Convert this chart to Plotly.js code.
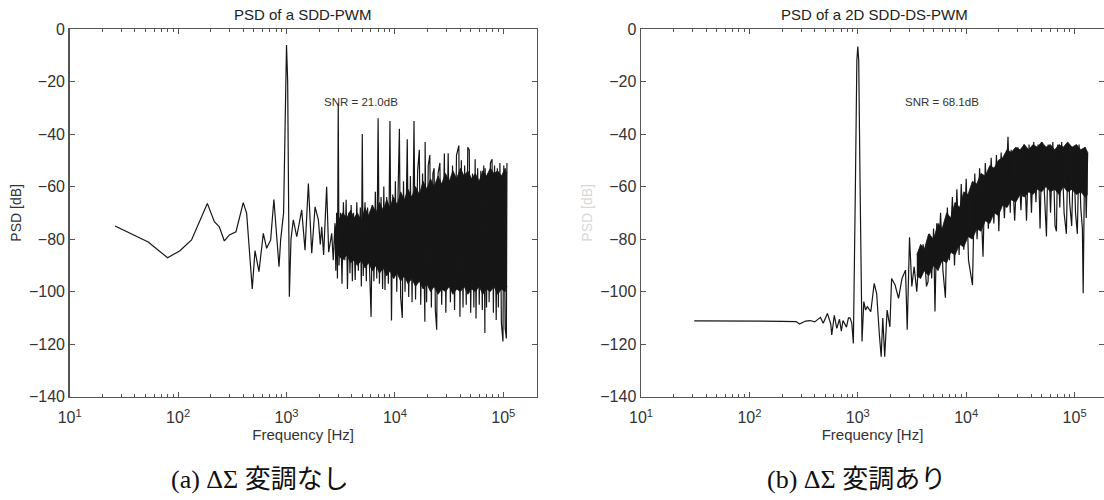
<!DOCTYPE html>
<html>
<head>
<meta charset="utf-8">
<script src="https://cdn.plot.ly/plotly-3.0.1.min.js"></script>
<style>
html,body{margin:0;padding:0;background:#fff;}
#chart{width:1104px;height:500px;}
</style>
</head>
<body>
<div id="chart"></div>
<script>
// ---------- Data ----------
// (a) PSD of a SDD-PWM : main trace
const sddFreq = [26.2,53,80,104,133,156,186,216,240,267,297,342,399,429,483,512,557,611,656,714,765,853,883,940,975,1000,1025,1050,1062,1100,1156,1243,1381,1482,1591,1709,1834,1968,2050,2113,2200,2346,2450,2612,2700,2800,2850,2900,2950,3000,3050,3150,3250,3350,3450,3550,3650,3750,3850,3950,4050,4150,4300,4450,4600,4800,4900,5000,5100,5300,5450,5600,5800,6029,6200,6400,6600,6800,7000,7200,7450,7700,7900,8100,8400,8700,9000,9300,9550,9800,10100,10400,10700,11000,11300,11700,12000,12400,13000,13400,13900,14400,15000,15500,16200,16800,17300,18000,18900,19000,19600,20300,21000,21700,22400,23000,23600,24300,25000,26000,27000,28600,29500,31000,32500,34000,35500,37000,38900,39800,41000,42500,44000,45500,47000,48500,50000,52000,53500,55000,56000,58000,60000,62000,64000,66000,67600,68000,70000,72000,74000,76000,78700,81000,83000,86000,88000,90000,93000,96000,99300,101000,104000,106700,108000];
const sddPsd  = [-75.0,-81.1,-87.1,-84.4,-80.3,-73.4,-66.4,-73.4,-75.3,-80.7,-78.4,-77.2,-66.1,-70.2,-99.0,-84.4,-92.4,-77.8,-83.5,-80.3,-64.9,-90.5,-80.3,-70,-20,-6.1,-20,-75,-101.9,-80,-72.7,-79.1,-68.9,-84.2,-58.8,-85.4,-67.7,-72.7,-82,-75.3,-86,-60.1,-85,-77.8,-88,-74,-92,-70,-95,-28.3,-90,-70,-97,-66,-88,-65,-99,-70,-93,-67,-96,-70,-95.6,-66,-92,-68,-98,-40,-94,-66,-96,-68,-93,-109.6,-67,-96,-62,-95,-34,-97,-64,-99,-60,-99.4,-64,-97,-35,-111,-63,-95,-58,-100,-62,-38,-102,-110,-58,-100,-42,-102,-56,-104,-35,-103,-54,-46,-105,-55,-111.5,-43,-104,-52,-48,-106,-55,-53,-107,-114.5,-55,-51,-105,-47.4,-108,-47.3,-104,-52,-107,-48,-44.4,-109.6,-50,-106,-52,-105,-45,-46,-108,-55,-106,-49.6,-110.2,-53,-105,-54,-107,-52,-115.7,-53,-106,-55,-104,-51,-49.6,-108,-52,-110.8,-53,-106,-51,-112,-119,-52,-114,-117.8,-51];
// (a) dense noise band (jagged upper / lower edge of the solid black mass)
const sddBandFreq = [2800,3000,3300,3600,3900,4200,4500,4900,5300,5700,6200,6700,7200,7800,8400,9000,9700,10500,11300,12200,13200,14300,15500,16800,18200,19700,21300,23000,25000,27000,29300,31700,34300,37100,40200,43500,47100,51000,55200,59800,64700,70000,75800,82000,88800,96100,104000,108000];
const sddBandHi   = [-76,-73,-70,-72,-69,-72,-70,-73,-68,-71,-67,-70,-66,-69,-65,-68,-64,-67,-62,-65,-61,-64,-60,-63,-58,-61,-57,-60,-56,-59,-55,-58,-54,-57,-53,-56,-54,-57,-55,-58,-54,-56,-53,-55,-54,-56,-53,-55];
const sddBandLo   = [-84,-86,-88,-86,-89,-88,-90,-88,-91,-89,-92,-90,-93,-91,-94,-92,-95,-93,-96,-94,-97,-95,-98,-96,-99,-97,-100,-98,-101,-99,-100,-98,-101,-99,-100,-98,-101,-99,-100,-98,-101,-99,-100,-98,-101,-99,-100,-98];

// (b) PSD of a 2D SDD-DS-PWM : main trace
const dsFreq = [31,100,200,270,290,330,363,400,452,480,524,563,575,607,640,678,705,730,786,820,847,880,910,950,980,1000,1020,1050,1094,1136,1180,1223,1318,1416,1493,1582,1643,1700,1730,1771,1864,1977,2051,2208,2376,2558,2755,2857,3000,3150,3311,3500,3700,3837,4000,4131,4300,4446,4600,4800,5000,5152,5350,5555,5800,6100,6430,6700,7000,7460,7800,8200,8600,9000,9500,10000,10500,11430,12000,12600,13300,14290,15000,16000,17000,18000,19000,20000,21000,22500,24300,25500,26000,28000,30000,32000,34000,36000,38000,40000,42000,44000,46000,48000,50000,53000,55000,57000,60000,63000,66000,68000,70000,73000,76000,80000,84000,87000,90000,94000,98000,102000,106000,110000,114000,118000,120000,124000,128000,132000];
const dsPsd  = [-111.1,-111.1,-111.3,-111.4,-112.3,-111.2,-111,-111.5,-109.8,-112,-108.3,-112.3,-116.5,-109,-114,-110.5,-115,-111,-113.5,-110,-110,-112,-119.7,-60,-12,-6.7,-12,-60,-119,-103.8,-107,-105.7,-107.6,-96.9,-100.7,-116.5,-124.8,-110,-115.2,-124.8,-107,-113.4,-95,-97.5,-102.6,-95,-91.8,-114.5,-79.3,-98,-90.5,-100,-84,-94.3,-82,-86.7,-98,-96.2,-78,-95,-76,-107.6,-74,-88,-70,-92,-102.3,-68,-88,-64,-90,-61,-86,-59,-84,-57,-88,-97.5,-55,-80,-53,-86.7,-51,-76,-49,-74,-48,-77,-47,-72,-41,-70,-46,-73,-45,-69,-44,-73,-44,-70,-43,-66,-44,-76,-43,-68,-79,-44,-70,-43,-75,-77,-44,-68,-43,-70,-78,-44,-66,-75,-45,-70,-78,-44,-68,-76,-100.6,-45,-72,-47];
// (b) dense noise band
const dsBandFreq = [3500,3800,4100,4500,5000,5500,6000,6600,7200,7900,8700,9500,10400,11400,12500,13700,15000,16500,18100,19800,21700,23800,26100,28600,31400,34400,37700,41300,45300,49700,54500,59700,65500,71800,78700,86300,94600,104000,114000,125000,132000];
const dsBandHi   = [-86,-82,-84,-78,-80,-74,-76,-70,-72,-66,-68,-62,-63,-58,-59,-55,-56,-52,-53,-50,-49,-46,-47,-45,-46,-44,-46,-44,-45,-43,-45,-44,-46,-44,-45,-43,-45,-44,-46,-45,-47];
const dsBandLo   = [-94,-95,-92,-94,-90,-92,-88,-89,-85,-86,-82,-83,-79,-80,-76,-77,-73,-74,-70,-71,-67,-68,-65,-66,-63,-64,-62,-63,-61,-62,-60,-62,-61,-63,-60,-62,-61,-63,-62,-64,-63];

// ticks
const decadeTicks  = [10,100,1000,10000,100000];
const decadeLabels = ['10<sup>1</sup>','10<sup>2</sup>','10<sup>3</sup>','10<sup>4</sup>','10<sup>5</sup>'];
const minorTicks   = [20,30,40,50,60,70,80,90,200,300,400,500,600,700,800,900,2000,3000,4000,5000,6000,7000,8000,9000,20000,30000,40000,50000,60000,70000,80000,90000,200000,300000];
const yTicks       = [0,-20,-40,-60,-80,-100,-120,-140];

const titles   = ['PSD of a SDD-PWM','PSD of a 2D SDD-DS-PWM'];
const snrTexts = ['SNR = 21.0dB','SNR = 68.1dB'];
const captions = ['(a) \u0394\u03A3 変調なし','(b) \u0394\u03A3 変調あり'];

// ---------- Layout geometry ----------
const W = 1104, H = 500;
const px = v => v / W;
const py = v => 1 - v / H;
const axCol = '#555';
const tickFont = {family:'Liberation Sans, Arial, sans-serif', size:16, color:'#333'};

function xAxis(dom, range){
  return {
    type:'log', domain:dom, range:range,
    showline:true, linecolor:axCol, linewidth:1.5, mirror:'ticks',
    ticks:'inside', ticklen:5, tickcolor:axCol, tickwidth:1,
    tickvals:decadeTicks, ticktext:decadeLabels, tickfont:tickFont, ticklabelstandoff:6,
    minor:{tickvals:minorTicks, ticks:'inside', ticklen:3, tickcolor:axCol, tickwidth:1, showgrid:false},
    showgrid:false, zeroline:false, fixedrange:true,
    title:{text:'Frequency [Hz]', font:{family:'Liberation Sans, Arial, sans-serif', size:15, color:'#333'}, standoff:4}
  };
}
function yAxis(anchor, titleText, titleColor){
  return {
    anchor:anchor, domain:[py(396.7), py(29)], range:[-140,0],
    showline:true, linecolor:axCol, linewidth:1.5, mirror:'ticks',
    ticks:'inside', ticklen:5, tickcolor:axCol, tickwidth:1,
    tickvals:yTicks, tickfont:tickFont,
    showgrid:false, zeroline:false, fixedrange:true,
    title:{text:titleText, font:{family:'Liberation Sans, Arial, sans-serif', size:14, color:titleColor}, standoff:4}
  };
}

const ink = '#161616';
const lineStyle = {color:ink, width:1.2};
const traces = [
  {x:sddBandFreq, y:sddBandLo, xaxis:'x', yaxis:'y', mode:'lines', line:{width:0.8, color:ink}, hoverinfo:'skip', showlegend:false},
  {x:sddBandFreq, y:sddBandHi, xaxis:'x', yaxis:'y', mode:'lines', fill:'tonexty', fillcolor:ink, line:{width:0.8, color:ink}, hoverinfo:'skip', showlegend:false},
  {x:sddFreq, y:sddPsd, xaxis:'x', yaxis:'y', mode:'lines', line:lineStyle, showlegend:false},
  {x:dsBandFreq, y:dsBandLo, xaxis:'x2', yaxis:'y2', mode:'lines', line:{width:0.8, color:ink}, hoverinfo:'skip', showlegend:false},
  {x:dsBandFreq, y:dsBandHi, xaxis:'x2', yaxis:'y2', mode:'lines', fill:'tonexty', fillcolor:ink, line:{width:0.8, color:ink}, hoverinfo:'skip', showlegend:false},
  {x:dsFreq, y:dsPsd, xaxis:'x2', yaxis:'y2', mode:'lines', line:lineStyle, showlegend:false}
];

const titleFont = {family:'Liberation Sans, Arial, sans-serif', size:15, color:'#222'};
const snrFont = {family:'Liberation Sans, Arial, sans-serif', size:11.5, color:'#333'};
const capFont = {family:'Liberation Serif, "Noto Sans CJK JP", serif', size:26, color:'#111'};

const annotations = [
  {text:titles[0], xref:'paper', yref:'paper', x:px(303), y:py(14), xanchor:'center', yanchor:'middle', showarrow:false, font:titleFont},
  {text:titles[1], xref:'paper', yref:'paper', x:px(874), y:py(14), xanchor:'center', yanchor:'middle', showarrow:false, font:titleFont},
  {text:snrTexts[0], xref:'paper', yref:'paper', x:px(322), y:py(101.7), xanchor:'left', yanchor:'middle', showarrow:false, font:snrFont},
  {text:snrTexts[1], xref:'paper', yref:'paper', x:px(903), y:py(101.7), xanchor:'left', yanchor:'middle', showarrow:false, font:snrFont},
  {text:captions[0], xref:'paper', yref:'paper', x:px(260), y:py(479), xanchor:'center', yanchor:'middle', showarrow:false, font:capFont},
  {text:captions[1], xref:'paper', yref:'paper', x:px(856), y:py(479), xanchor:'center', yanchor:'middle', showarrow:false, font:capFont}
];

const layout = {
  width:W, height:H,
  margin:{l:0, r:0, t:0, b:0, pad:0},
  paper_bgcolor:'#fff', plot_bgcolor:'#fff',
  showlegend:false,
  xaxis:  Object.assign(xAxis([px(69.7), px(536.7)], [1, 5.308]), {anchor:'y'}),
  yaxis:  yAxis('x', 'PSD [dB]', '#333'),
  xaxis2: Object.assign(xAxis([px(641), 1], [1, 1 + (1104-641)/108.4]), {anchor:'y2'}),
  yaxis2: yAxis('x2', 'PSD [dB]', '#d8d8d8'),
  annotations:annotations
};

Plotly.newPlot('chart', traces, layout, {staticPlot:true, displayModeBar:false});
</script>
</body>
</html>
